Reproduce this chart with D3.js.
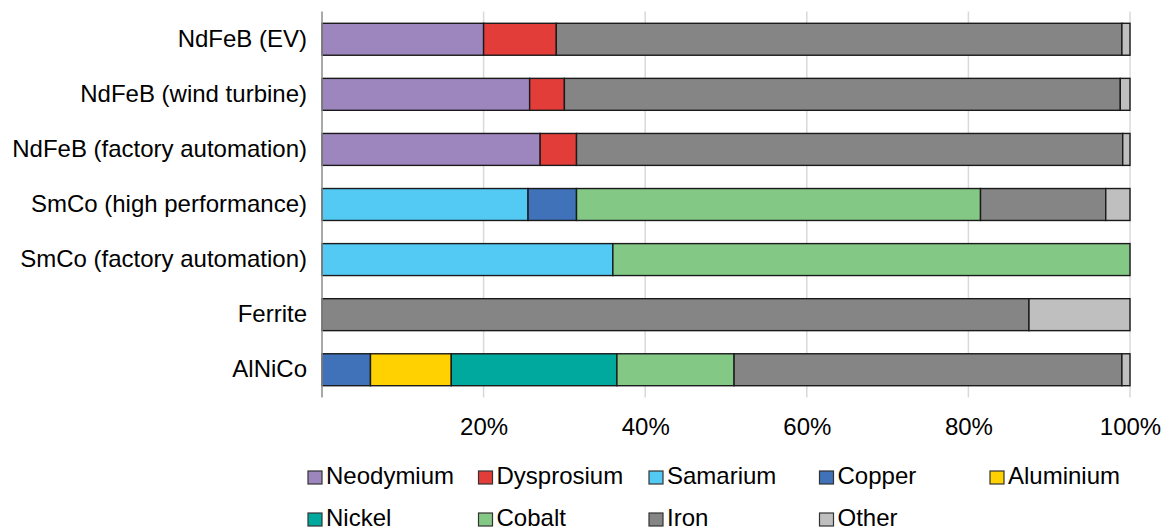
<!DOCTYPE html>
<html>
<head>
<meta charset="utf-8">
<script src="https://cdn.jsdelivr.net/npm/d3@7"></script>
<style>
  html, body { margin: 0; padding: 0; background: #ffffff; }
  svg { display: block; font-family: "Liberation Sans", Arial, sans-serif; }
</style>
</head>
<body>
<svg id="chart" width="1163" height="532"></svg>
<script>
// ---- data ----
const categories = [
  "NdFeB (EV)",
  "NdFeB (wind turbine)",
  "NdFeB (factory automation)",
  "SmCo (high performance)",
  "SmCo (factory automation)",
  "Ferrite",
  "AlNiCo"
];
const seriesNames = ["Neodymium", "Dysprosium", "Samarium", "Copper", "Aluminium", "Nickel", "Cobalt", "Iron", "Other"];
const neodymium  = [20, 25.7, 27, 0, 0, 0, 0];
const dysprosium = [9, 4.3, 4.5, 0, 0, 0, 0];
const samarium   = [0, 0, 0, 25.5, 36, 0, 0];
const copper     = [0, 0, 0, 6, 0, 0, 6];
const aluminium  = [0, 0, 0, 0, 0, 0, 10];
const nickel     = [0, 0, 0, 0, 0, 0, 20.5];
const cobalt     = [0, 0, 0, 50, 64, 0, 14.5];
const iron       = [70, 68.8, 67.6, 15.5, 0, 87.5, 48];
const other      = [1, 1.2, 0.9, 3, 0, 12.5, 1];
const seriesValues = [neodymium, dysprosium, samarium, copper, aluminium, nickel, cobalt, iron, other];
const seriesColors = ["#9d85be", "#e33d3a", "#53caf4", "#3f72b8", "#ffd100", "#00a99d", "#84c886", "#858585", "#bfbfbf"];
const tickValues = [20, 40, 60, 80, 100];
const tickLabels = ["20%", "40%", "60%", "80%", "100%"];

// ---- build table ----
const rows = categories.map((c, i) => {
  const r = { category: c };
  seriesNames.forEach((s, j) => { r[s] = seriesValues[j][i]; });
  return r;
});
const stacked = d3.stack().keys(seriesNames)(rows);

const svg = d3.select("#chart");
const plotLeft = 322, plotRight = 1130, plotTop = 11.5, plotBottom = 397.5;
const fontSize = "24px";

const x = d3.scaleLinear().domain([0, 100]).range([plotLeft, plotRight]);
const y = d3.scaleBand().domain(categories).range([plotTop, plotBottom])
  .paddingInner(0.42).paddingOuter(0.214);
const color = d3.scaleOrdinal().domain(seriesNames).range(seriesColors);

// gridlines
svg.append("g").selectAll("line").data(tickValues).join("line")
  .attr("x1", d => x(d)).attr("x2", d => x(d))
  .attr("y1", plotTop).attr("y2", plotBottom)
  .attr("stroke", "#d9d9d9").attr("stroke-width", 1.5);

// bars
svg.append("g").selectAll("g").data(stacked).join("g")
  .attr("fill", d => color(d.key))
  .selectAll("rect").data(d => d.filter(p => p[1] - p[0] > 0)).join("rect")
  .attr("x", d => x(d[0]))
  .attr("y", d => y(d.data.category))
  .attr("width", d => x(d[1]) - x(d[0]))
  .attr("height", y.bandwidth())
  .attr("stroke", "#1a1a1a").attr("stroke-width", 1.4);

// y axis (zero line)
const yAxis = svg.append("g").attr("transform", `translate(${plotLeft},0)`)
  .call(d3.axisLeft(y).tickSize(0).tickPadding(15));
yAxis.select(".domain").attr("stroke", "#8c8c8c").attr("stroke-width", 1.5)
  .attr("d", `M0,${plotTop}V${plotBottom}`);
yAxis.selectAll("text").attr("font-size", fontSize).attr("fill", "#000")
  .attr("font-family", "Liberation Sans, Arial, sans-serif");

// x axis labels
const xAxis = svg.append("g").attr("transform", `translate(0,${plotBottom})`)
  .call(d3.axisBottom(x).tickValues(tickValues).tickFormat((d, i) => tickLabels[i]).tickSize(0).tickPadding(20));
xAxis.select(".domain").remove();
xAxis.selectAll("text").attr("font-size", fontSize).attr("fill", "#000")
  .attr("font-family", "Liberation Sans, Arial, sans-serif");

// legend
const legendCols = 5, colStep = 170.5, legendX = 308, row1Base = 484, rowStep = 42;
const leg = svg.append("g").selectAll("g").data(seriesNames).join("g")
  .attr("transform", (d, i) => `translate(${legendX + (i % legendCols) * colStep},${row1Base + Math.floor(i / legendCols) * rowStep})`);
leg.append("rect").attr("x", 0).attr("y", -13).attr("width", 14).attr("height", 13)
  .attr("fill", d => color(d)).attr("stroke", "#333").attr("stroke-width", 1.2);
leg.append("text").attr("x", 18).attr("y", 0).text(d => d)
  .attr("font-size", fontSize).attr("fill", "#000");
</script>
</body>
</html>
